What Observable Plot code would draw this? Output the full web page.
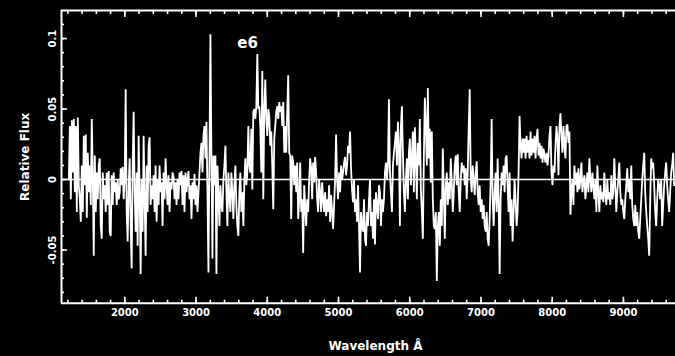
<!DOCTYPE html>
<html><head><meta charset="utf-8">
<script src="https://cdn.jsdelivr.net/npm/d3@7"></script>
<script src="https://cdn.jsdelivr.net/npm/@observablehq/plot@0.6"></script>
<style>
html,body{margin:0;padding:0;background:#000;overflow:hidden;}
</style></head><body><div id="chart"></div>
<script>
// Wavelength samples (Å)
const wave = [
1214,1228,1242,1256,1270,1284,1298,1312,1326,1340,
1354,1368,1382,1396,1410,1424,1438,1452,1466,1480,
1494,1508,1522,1536,1550,1564,1578,1592,1606,1620,
1634,1648,1662,1676,1690,1704,1718,1732,1746,1760,
1774,1788,1802,1816,1830,1844,1858,1872,1886,1900,
1914,1928,1942,1956,1970,1984,1998,2012,2026,2040,
2054,2068,2082,2096,2110,2124,2138,2152,2166,2180,
2194,2208,2222,2236,2250,2264,2278,2292,2306,2320,
2334,2348,2362,2376,2390,2404,2418,2432,2446,2460,
2474,2488,2502,2516,2530,2544,2558,2572,2586,2600,
2614,2628,2642,2656,2670,2684,2698,2712,2726,2740,
2754,2768,2782,2796,2810,2824,2838,2852,2866,2880,
2894,2908,2922,2936,2950,2964,2978,2992,3006,3020,
3034,3048,3062,3076,3090,3104,3118,3132,3146,3160,
3174,3188,3202,3216,3230,3244,3258,3272,3286,3300,
3314,3328,3342,3356,3370,3384,3398,3412,3426,3440,
3454,3468,3482,3496,3510,3524,3538,3552,3566,3580,
3594,3608,3622,3636,3650,3664,3678,3692,3706,3720,
3734,3748,3762,3776,3790,3804,3818,3832,3846,3860,
3874,3888,3902,3916,3930,3944,3958,3972,3986,4000,
4014,4028,4042,4056,4070,4084,4098,4112,4126,4140,
4154,4168,4182,4196,4210,4224,4238,4252,4266,4280,
4294,4308,4322,4336,4350,4364,4378,4392,4406,4420,
4434,4448,4462,4476,4490,4504,4518,4532,4546,4560,
4574,4588,4602,4616,4630,4644,4658,4672,4686,4700,
4714,4728,4742,4756,4770,4784,4798,4812,4826,4840,
4854,4868,4882,4896,4910,4924,4938,4952,4966,4980,
4994,5008,5022,5036,5050,5064,5078,5092,5106,5120,
5134,5148,5162,5176,5190,5204,5218,5232,5246,5260,
5274,5288,5302,5316,5330,5344,5358,5372,5386,5400,
5414,5428,5442,5456,5470,5484,5498,5512,5526,5540,
5554,5568,5582,5596,5610,5624,5638,5652,5666,5680,
5694,5708,5722,5736,5750,5764,5778,5792,5806,5820,
5834,5848,5862,5876,5890,5904,5918,5932,5946,5960,
5974,5988,6002,6016,6030,6044,6058,6072,6086,6100,
6114,6128,6142,6156,6170,6184,6198,6212,6226,6240,
6254,6268,6282,6296,6310,6324,6338,6352,6366,6380,
6394,6408,6422,6436,6450,6464,6478,6492,6506,6520,
6534,6548,6562,6576,6590,6604,6618,6632,6646,6660,
6674,6688,6702,6716,6730,6744,6758,6772,6786,6800,
6814,6828,6842,6856,6870,6884,6898,6912,6926,6940,
6954,6968,6982,6996,7010,7024,7038,7052,7066,7080,
7094,7108,7122,7136,7150,7164,7178,7192,7206,7220,
7234,7248,7262,7276,7290,7304,7318,7332,7346,7360,
7374,7388,7402,7416,7430,7444,7458,7472,7486,7500,
7514,7528,7542,7556,7570,7584,7598,7612,7626,7640,
7654,7668,7682,7696,7710,7724,7738,7752,7766,7780,
7794,7808,7822,7836,7850,7864,7878,7892,7906,7920,
7934,7948,7962,7976,7990,8004,8018,8032,8046,8060,
8074,8088,8102,8116,8130,8144,8158,8172,8186,8200,
8214,8228,8242,8256,8270,8284,8298,8312,8326,8340,
8354,8368,8382,8396,8410,8424,8438,8452,8466,8480,
8494,8508,8522,8536,8550,8564,8578,8592,8606,8620,
8634,8648,8662,8676,8690,8704,8718,8732,8746,8760,
8774,8788,8802,8816,8830,8844,8858,8872,8886,8900,
8914,8928,8942,8956,8970,8984,8998,9012,9026,9040,
9054,9068,9082,9096,9110,9124,9138,9152,9166,9180,
9194,9208,9222,9236,9250,9264,9278,9292,9306,9320,
9334,9348,9362,9376,9390,9404,9418,9432,9446,9460,
9474,9488,9502,9516,9530,9544,9558,9572,9586,9600,
9614,9628,9642,9656,9670,9684,9698,9712
];

// Relative flux, 1214–3328 Å
const fluxA = [
0,.038,-.014,.042,.005,.043,-.009,.038,-.023,.044,
-.004,-.014,-.030,.010,-.023,.031,-.004,.032,-.027,.019,
-.009,.010,-.018,.043,.003,-.054,.017,-.023,.005,-.014,
.010,.015,-.033,-.042,.005,-.014,-.004,-.023,.005,-.018,
.006,-.037,-.040,.003,-.018,.005,-.009,-.002,-.018,.000,
-.014,-.009,.008,-.004,.009,-.014,.000,.064,-.023,-.044,
-.004,.015,-.033,-.063,.010,.048,-.009,-.037,.005,-.047,
.031,-.009,-.067,.000,-.037,.031,-.014,-.054,.010,-.023,
.024,.030,-.018,-.004,-.014,.003,-.023,.010,-.030,.000,
-.018,.010,-.009,-.002,-.033,.005,-.014,.015,-.004,-.018,
.003,-.023,-.002,-.007,.005,.002,-.014,-.002,-.018,.000,
-.014,.005,-.004,.006,-.018,.003,-.023,.005,-.009,.000,
.006,-.014,-.004,-.028,-.002,-.014,.004,-.018,-.004,-.023,
-.009,.005,.019,.026,.005,.031,.038,.015,.041,-.009,
-.066,.015,.103,.015,-.056,.017,-.004,.017,-.067,.010,
-.009,-.033
];
// Relative flux, 3342–5498 Å (e6 feature)
const fluxB = [
-.004,-.018,-.023,.000,.010,.024,-.009,-.033,.005,-.014,
-.023,.005,-.009,-.028,-.004,.010,-.018,-.033,-.040,-.009,
.005,-.023,-.009,-.033,-.002,.015,-.004,.005,.038,.010,
.005,.036,-.007,.048,.050,.043,.052,.089,.050,.052,
.038,.005,.077,-.014,.050,.071,.043,.031,.050,.045,
.024,.034,.010,-.021,.029,.038,.048,.052,.043,.055,
.048,.052,.038,.055,.019,.038,.019,.048,.074,.019,
.017,-.028,.017,.012,-.004,.010,-.009,.012,-.028,-.014,
.012,-.023,-.014,-.052,-.004,-.018,-.033,-.014,-.023,.000,
.015,.008,-.014,.012,-.002,.016,.005,-.014,-.023,.000,
-.009,-.023,-.002,-.014,-.023,-.009,-.026,-.014,-.023,-.004,
-.030,-.011,-.023,-.035,-.018,.000,.032,.000,-.014,.005,
-.009,.010,.000,.005,.012,.016,.003,.010,.024,.019,
.034,.008,-.007,-.016,.000,-.023,-.014,-.030,-.004,-.033,
-.066,-.023,-.033,-.037,-.014,-.042,-.047,-.023,-.033,-.014,
.000,-.033,-.023,-.042,-.014
];
// Relative flux, 5512–7598 Å
const fluxC = [
-.046,-.009,-.018,-.028,-.004,-.009,-.033,-.014,-.023,-.014,
.005,.012,.000,.010,.057,.005,-.009,-.023,.010,.019,
.026,.034,.010,.041,.024,-.033,.038,.052,.019,-.009,
-.023,.000,.015,-.014,.019,.029,-.004,.015,.034,-.009,
.037,.015,-.014,.026,.010,.043,-.007,-.023,-.042,.015,
.058,.038,.010,.065,.015,.036,-.002,.034,-.014,-.033,
-.035,-.023,-.072,-.033,-.023,-.047,-.014,-.033,.022,-.009,
-.042,-.004,.005,-.018,-.002,-.014,.015,-.002,-.023,-.009,
.010,.017,-.004,.018,-.009,-.023,.000,.012,.005,.010,
-.004,.008,-.014,.005,.038,.064,.000,-.009,.010,.000,
-.011,.005,.013,-.009,-.018,-.004,-.023,-.014,-.028,-.018,
-.033,-.037,-.023,-.042,-.047,-.028,.000,.043,-.014,-.033,
-.009,.005,-.023,.015,-.014,-.067,-.014,.005,-.004,.010,
-.009,.015,.017,-.004,-.023,.005,-.033,-.014,-.044,-.023,
.000,-.014,-.033,-.023,.005,.045,.024,.015,.029,.019
];
// Relative flux, 7612–9712 Å
const fluxD = [
.029,.015,.031,.019,.028,.015,.034,.017,.029,.019,
.031,.015,.029,.036,.017,.026,.015,.024,.012,.022,
.017,.012,.019,.010,.017,.031,.038,.005,-.004,.010,
.005,.024,.038,.029,.003,.038,.047,.031,.019,.038,
.024,.015,.038,.039,.026,.034,-.025,-.009,.000,-.018,
.010,-.004,.005,-.009,.008,-.007,.000,.012,-.009,-.002,
.003,-.014,-.004,.005,-.009,.015,.000,-.009,.005,-.004,
-.014,.000,-.023,.010,-.009,-.023,-.004,-.014,-.009,-.016,
.005,-.011,-.018,.000,-.014,-.009,-.018,.003,-.014,-.009,
.015,-.004,-.023,-.009,.000,.012,-.009,-.018,-.014,-.023,
-.028,-.014,-.004,.008,-.009,.000,-.014,.010,-.018,-.028,
-.033,-.018,-.033,-.023,-.037,-.042,-.028,-.014,.000,.010,
.019,-.009,-.023,-.033,-.042,-.054,-.014,.015,.008,.012,
-.004,-.023,-.033,-.014,.000,-.004,-.014,.000,-.033,-.018,
-.004,.005,.012,-.004,-.014,-.023,-.009,.005,.010,.019,
-.004
];

const xMajorTicks = [2000,3000,4000,5000,6000,7000,8000,9000];
const xMinorTicks = [1200,1400,1600,1800,2000,2200,2400,2600,2800,3000,3200,3400,3600,3800,4000,4200,4400,4600,4800,5000,5200,5400,5600,5800,6000,6200,6400,6600,6800,7000,7200,7400,7600,7800,8000,8200,8400,8600,8800,9000,9200,9400,9600];
const yMajorTicks = [-0.05,0,0.05,0.1];
const yMinorTicks = [-0.08,-0.07,-0.06,-0.05,-0.04,-0.03,-0.02,-0.01,0,0.01,0.02,0.03,0.04,0.05,0.06,0.07,0.08,0.09,0.1,0.11];
const xDomain = [1111, 9731];
const yDomain = [-0.0877, 0.1199];
const annotations = [{label: "e6", w: 3723, f: 0.0936}];
const xLabel = "Wavelength Å";
const yLabel = "Relative Flux";

const flux = fluxA.concat(fluxB, fluxC, fluxD);
if (flux.length !== wave.length) console.error("length mismatch", flux.length, wave.length);
const spectrum = wave.map((w, i) => ({w, f: flux[i]}));

const ink = "#fff";
const chart = Plot.plot({
  width: 675, height: 356,
  marginLeft: 61, marginRight: 0, marginTop: 10, marginBottom: 53.3,
  style: {background: "#000", color: ink, fontFamily: "'DejaVu Sans', sans-serif", fontSize: "10px", fontWeight: "bold"},
  x: {domain: xDomain, axis: null},
  y: {domain: yDomain, axis: null},
  marks: [
    Plot.ruleY([0], {stroke: ink, strokeWidth: 1.6}),
    Plot.line(spectrum, {x: "w", y: "f", stroke: ink, strokeWidth: 1.8, strokeLinejoin: "miter", strokeMiterlimit: 2}),
    // frame (right side falls outside the picture)
    Plot.ruleY([yDomain[0], yDomain[1]], {stroke: ink, strokeWidth: 2}),
    Plot.ruleX([xDomain[0]], {stroke: ink, strokeWidth: 2}),
    // minor ticks (inward)
    Plot.axisX({ticks: xMinorTicks, anchor: "bottom", tickSize: -3, tickFormat: () => "", label: null, strokeWidth: 1.6}),
    Plot.axisX({ticks: xMinorTicks, anchor: "top", tickSize: -3, tickFormat: () => "", label: null, strokeWidth: 1.6}),
    Plot.axisY({ticks: yMinorTicks, anchor: "left", tickSize: -3, tickFormat: () => "", label: null, strokeWidth: 1.6}),
    // major ticks and labels
    Plot.axisX({ticks: xMajorTicks, anchor: "top", tickSize: -6, tickFormat: () => "", label: null, strokeWidth: 1.6}),
    Plot.axisX({ticks: xMajorTicks, anchor: "bottom", tickSize: -6, tickPadding: 12, tickFormat: d => String(d), label: null, strokeWidth: 1.6, fontSize: 10, fontWeight: "bold"}),
    Plot.axisY({ticks: yMajorTicks, anchor: "left", tickSize: -6, tickPadding: 12, tickRotate: -90, tickFormat: d => String(d), label: null, strokeWidth: 1.6, fontSize: 10, fontWeight: "bold"}),
    // annotation and axis titles
    Plot.text(annotations, {x: "w", y: "f", text: "label", fill: ink, fontSize: 15, fontWeight: "bold", lineAnchor: "bottom"}),
    Plot.text([yLabel], {text: d => d, frameAnchor: "left", dx: -36, rotate: -90, textAnchor: "middle", lineAnchor: "middle", fill: ink, fontSize: 12, fontWeight: "bold"}),
    Plot.text([xLabel], {text: d => d, frameAnchor: "bottom", dx: 7, dy: 43, textAnchor: "middle", lineAnchor: "middle", fill: ink, fontSize: 12, fontWeight: "bold"})
  ]
});
document.getElementById("chart").appendChild(chart);
</script>
</body></html>
